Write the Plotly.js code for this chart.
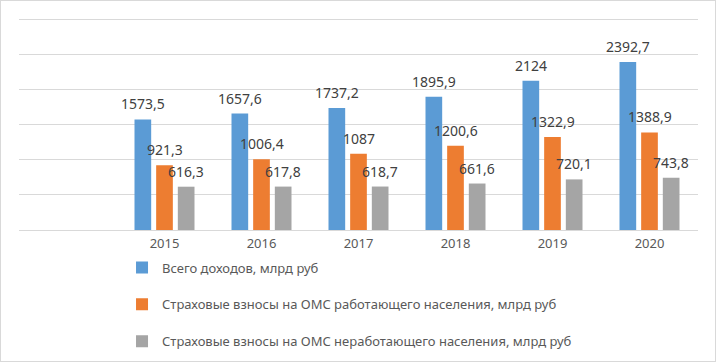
<!DOCTYPE html>
<html>
<head>
<meta charset="utf-8">
<script src="https://cdn.plot.ly/plotly-3.0.1.min.js"></script>
<style>
  html, body { margin: 0; padding: 0; background: #fff; }
  #frame { width: 716px; height: 362px; box-sizing: border-box; border: 1px solid #d9d9d9; overflow: hidden; }
  #chart { width: 714px; height: 360px; }
</style>
</head>
<body>
<div id="frame"><div id="chart"></div></div>
<script>
const years = ['2015', '2016', '2017', '2018', '2019', '2020'];
const seriesNames = [
  'Всего доходов, млрд руб',
  'Страховые взносы на ОМС работающего населения, млрд руб',
  'Страховые взносы на ОМС неработающего населения, млрд руб'
];
const totalIncome = [1573.5, 1657.6, 1737.2, 1895.9, 2124, 2392.7];
const workingContrib = [921.3, 1006.4, 1087, 1200.6, 1322.9, 1388.9];
const nonWorkingContrib = [616.3, 617.8, 618.7, 661.6, 720.1, 743.8];
const labelsTotal = ['1573,5', '1657,6', '1737,2', '1895,9', '2124', '2392,7'];
const labelsWorking = ['921,3', '1006,4', '1087', '1200,6', '1322,9', '1388,9'];
const labelsNonWorking = ['616,3', '617,8', '618,7', '661,6', '720,1', '743,8'];

const colors = ['#5B9BD5', '#ED7D31', '#A5A5A5'];
const allValues = [totalIncome, workingContrib, nonWorkingContrib];
const allLabels = [labelsTotal, labelsWorking, labelsNonWorking];
const shifts = [-21.7, 0, 21.7];
const FONT = '"Noto Sans", "DejaVu Sans", sans-serif';

const traces = allValues.map((vals, i) => ({
  type: 'bar',
  name: seriesNames[i],
  x: years,
  y: vals,
  marker: { color: colors[i], line: { width: 0 } },
  legendgroup: 'g' + i,
  hoverinfo: 'x+y'
}));

// data labels: x given as category index (numeric-looking category names are otherwise read as indices)
const annotations = [];
allValues.forEach((vals, i) => {
  vals.forEach((v, j) => {
    annotations.push({
      x: j, y: v, xref: 'x', yref: 'y',
      text: allLabels[i][j], showarrow: false,
      xanchor: 'center', yanchor: 'middle',
      xshift: shifts[i], yshift: 15.5,
      font: { family: FONT, size: 14, color: '#404040' }
    });
  });
});

const layout = {
  width: 714, height: 360,
  margin: { l: 18, r: 17, t: 14, b: 131, autoexpand: false },
  paper_bgcolor: '#ffffff', plot_bgcolor: '#ffffff',
  barmode: 'group', bargap: 0.33, bargroupgap: 0.23,
  xaxis: {
    type: 'category', range: [-1.5, 5.5],
    showgrid: false, zeroline: false, showline: false, ticks: '',
    ticklabelstandoff: 4, automargin: false,
    tickfont: { family: FONT, size: 13, color: '#595959' }
  },
  yaxis: {
    range: [0, 3060], tick0: 0, dtick: 500, showticklabels: false,
    showgrid: true, gridcolor: '#d9d9d9', gridwidth: 1,
    zeroline: true, zerolinecolor: '#d9d9d9', zerolinewidth: 1,
    showline: false, ticks: '', automargin: false
  },
  showlegend: true,
  legend: {
    orientation: 'v',
    xref: 'container', x: 0.1695, xanchor: 'left',
    yref: 'container', y: 0.3014, yanchor: 'top',
    tracegroupgap: 17, bgcolor: 'rgba(0,0,0,0)',
    font: { family: FONT, size: 13, color: '#595959' }
  },
  annotations: annotations,
  font: { family: FONT }
};

Plotly.newPlot('chart', traces, layout, { displayModeBar: false, staticPlot: true });
</script>
</body>
</html>
